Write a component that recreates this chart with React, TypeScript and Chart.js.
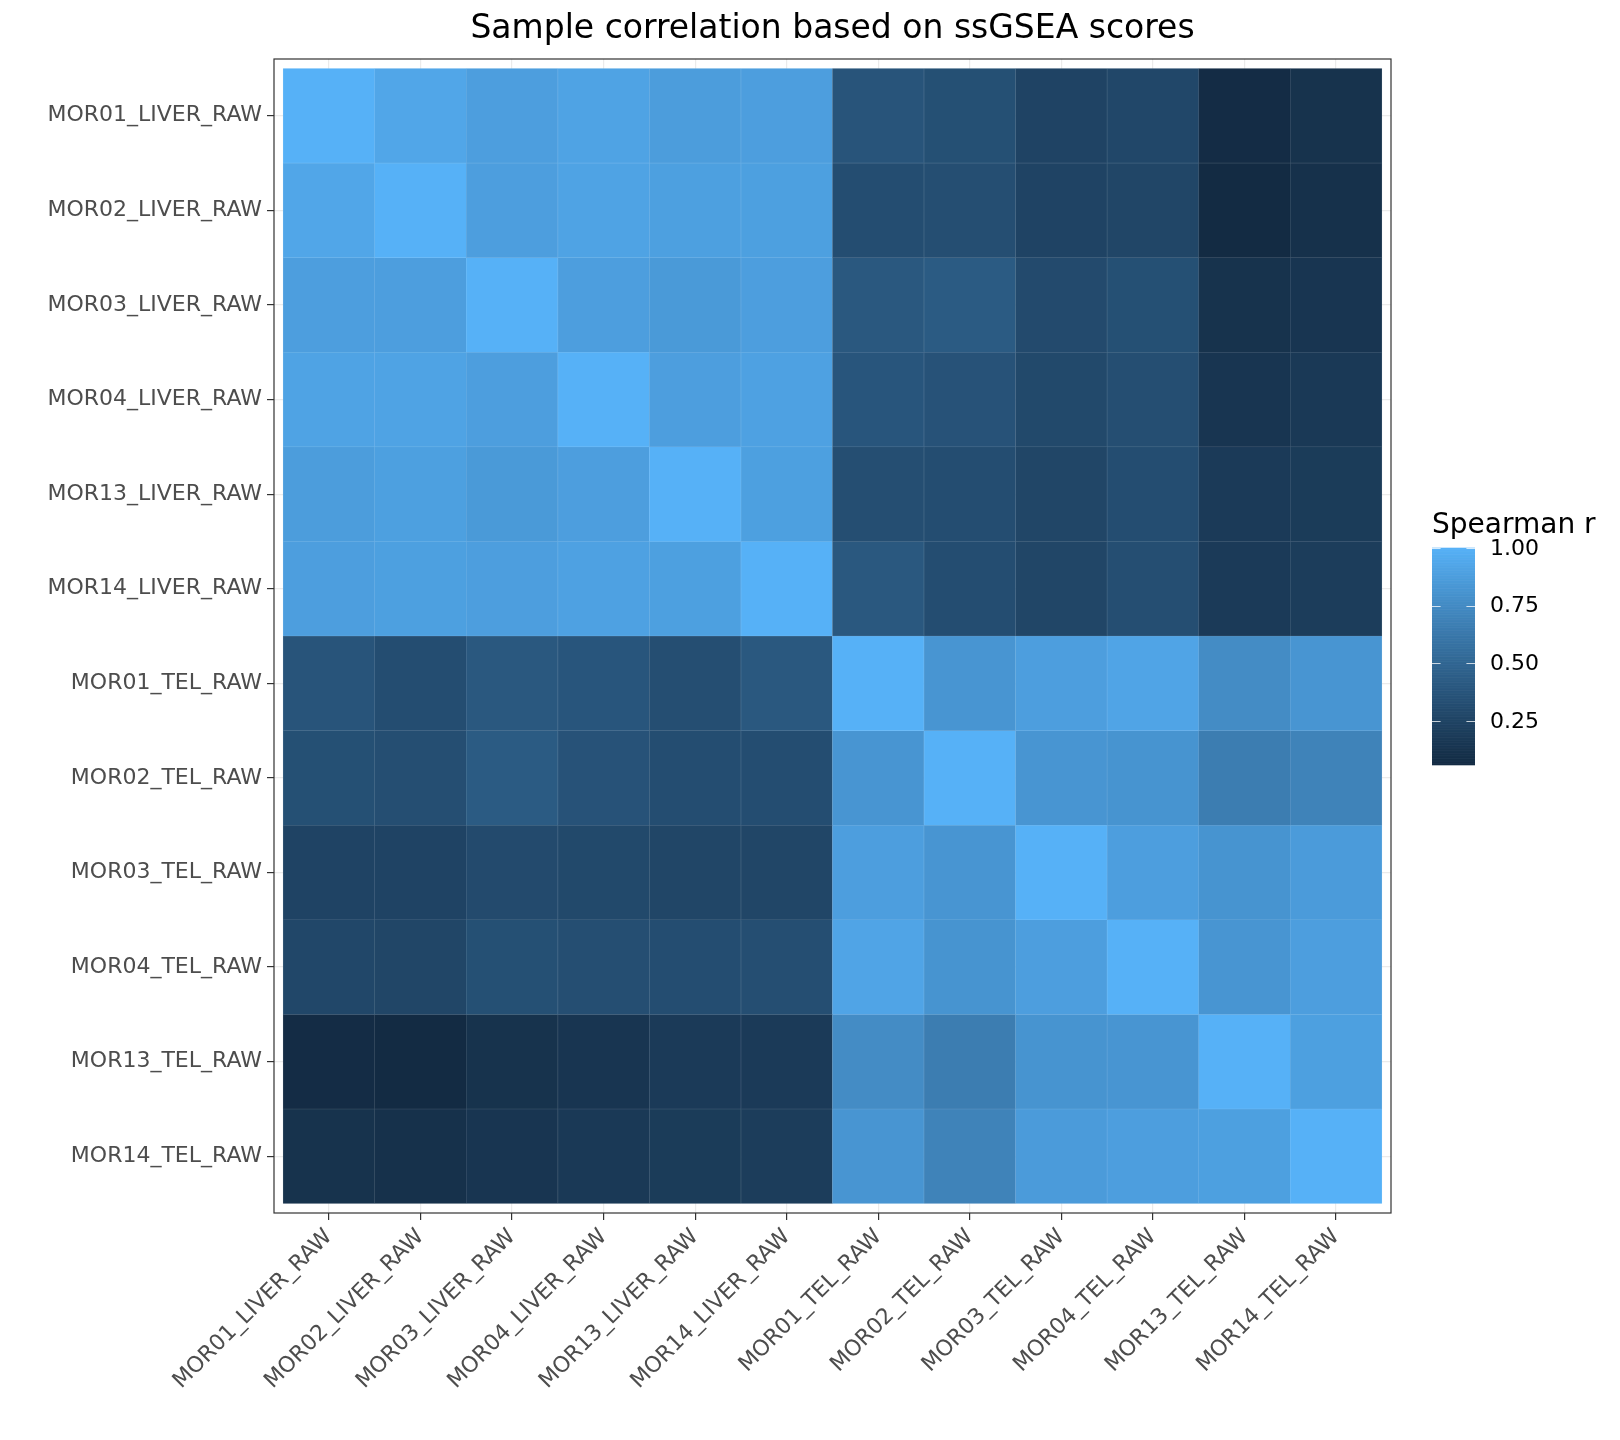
import React, { useEffect, useRef } from "react";
import { Chart, registerables } from "chart.js";

Chart.register(...registerables);

const samples = [
  "MOR01_LIVER_RAW",
  "MOR02_LIVER_RAW",
  "MOR03_LIVER_RAW",
  "MOR04_LIVER_RAW",
  "MOR13_LIVER_RAW",
  "MOR14_LIVER_RAW",
  "MOR01_TEL_RAW",
  "MOR02_TEL_RAW",
  "MOR03_TEL_RAW",
  "MOR04_TEL_RAW",
  "MOR13_TEL_RAW",
  "MOR14_TEL_RAW",
];

// Spearman r, one row per sample (same order as columns)
const rowMOR01Liver = [1.0, 0.93, 0.88, 0.91, 0.87, 0.88, 0.37, 0.34, 0.25, 0.28, 0.07, 0.12];
const rowMOR02Liver = [0.93, 1.0, 0.88, 0.91, 0.89, 0.89, 0.32, 0.33, 0.25, 0.27, 0.06, 0.11];
const rowMOR03Liver = [0.88, 0.88, 1.0, 0.88, 0.85, 0.88, 0.4, 0.42, 0.3, 0.34, 0.12, 0.14];
const rowMOR04Liver = [0.91, 0.91, 0.88, 1.0, 0.88, 0.9, 0.38, 0.36, 0.29, 0.33, 0.14, 0.17];
const rowMOR13Liver = [0.87, 0.89, 0.85, 0.88, 1.0, 0.89, 0.33, 0.32, 0.27, 0.32, 0.18, 0.19];
const rowMOR14Liver = [0.88, 0.89, 0.88, 0.9, 0.89, 1.0, 0.4, 0.32, 0.27, 0.33, 0.18, 0.2];
const rowMOR01Tel = [0.37, 0.32, 0.4, 0.38, 0.33, 0.4, 1.0, 0.82, 0.88, 0.92, 0.76, 0.82];
const rowMOR02Tel = [0.34, 0.33, 0.42, 0.36, 0.32, 0.32, 0.82, 1.0, 0.82, 0.81, 0.66, 0.7];
const rowMOR03Tel = [0.25, 0.25, 0.3, 0.29, 0.27, 0.27, 0.88, 0.82, 1.0, 0.88, 0.81, 0.86];
const rowMOR04Tel = [0.28, 0.27, 0.34, 0.33, 0.32, 0.33, 0.92, 0.81, 0.88, 1.0, 0.82, 0.88];
const rowMOR13Tel = [0.07, 0.06, 0.12, 0.14, 0.18, 0.18, 0.76, 0.66, 0.81, 0.82, 1.0, 0.89];
const rowMOR14Tel = [0.12, 0.11, 0.14, 0.17, 0.19, 0.2, 0.82, 0.7, 0.86, 0.88, 0.89, 1.0];

const matrixRows = [
  rowMOR01Liver,
  rowMOR02Liver,
  rowMOR03Liver,
  rowMOR04Liver,
  rowMOR13Liver,
  rowMOR14Liver,
  rowMOR01Tel,
  rowMOR02Tel,
  rowMOR03Tel,
  rowMOR04Tel,
  rowMOR13Tel,
  rowMOR14Tel,
];

const legendBreaks = [0.25, 0.5, 0.75, 1.0];
const legendTitle = "Spearman r";
const chartTitle = "Sample correlation based on ssGSEA scores";
const colorLow = "#132B43";
const colorHigh = "#56B1F7";

// ---- Lab colour interpolation (like ggplot2's scale_fill_gradient) ----
function hexToRgb(h: string) {
  const n = parseInt(h.slice(1), 16);
  return [(n >> 16) & 255, (n >> 8) & 255, n & 255];
}
function toLin(c: number) {
  c /= 255;
  return c <= 0.04045 ? c / 12.92 : Math.pow((c + 0.055) / 1.055, 2.4);
}
function fromLin(c: number) {
  const v = c <= 0.0031308 ? 12.92 * c : 1.055 * Math.pow(c, 1 / 2.4) - 0.055;
  return Math.round(Math.max(0, Math.min(1, v)) * 255);
}
const Xn = 0.95047, Yn = 1.0, Zn = 1.08883;
function fLab(t: number) {
  return t > 0.008856 ? Math.cbrt(t) : 7.787 * t + 16 / 116;
}
function fInv(t: number) {
  const t3 = t * t * t;
  return t3 > 0.008856 ? t3 : (t - 16 / 116) / 7.787;
}
function rgbToLab(rgb: number[]) {
  const r = toLin(rgb[0]), g = toLin(rgb[1]), b = toLin(rgb[2]);
  const X = 0.4124564 * r + 0.3575761 * g + 0.1804375 * b;
  const Y = 0.2126729 * r + 0.7151522 * g + 0.072175 * b;
  const Z = 0.0193339 * r + 0.119192 * g + 0.9503041 * b;
  const fx = fLab(X / Xn), fy = fLab(Y / Yn), fz = fLab(Z / Zn);
  return [116 * fy - 16, 500 * (fx - fy), 200 * (fy - fz)];
}
function labToRgb(lab: number[]) {
  const fy = (lab[0] + 16) / 116;
  const fx = fy + lab[1] / 500;
  const fz = fy - lab[2] / 200;
  const X = fInv(fx) * Xn, Y = fInv(fy) * Yn, Z = fInv(fz) * Zn;
  const r = 3.2404542 * X - 1.5371385 * Y - 0.4985314 * Z;
  const g = -0.969266 * X + 1.8760108 * Y + 0.041556 * Z;
  const b = 0.0556434 * X - 0.2040259 * Y + 1.0572252 * Z;
  return [fromLin(r), fromLin(g), fromLin(b)];
}
const labLow = rgbToLab(hexToRgb(colorLow));
const labHigh = rgbToLab(hexToRgb(colorHigh));
function rampRgb(t: number) {
  t = Math.max(0, Math.min(1, t));
  return labToRgb([0, 1, 2].map((k) => labLow[k] + (labHigh[k] - labLow[k]) * t));
}

export default function App() {
  const ref = useRef<HTMLCanvasElement>(null);

  useEffect(() => {
    if (!ref.current) return;
    const all = matrixRows.flat();
    const vmin = Math.min(...all);
    const vmax = Math.max(...all);
    const norm = (v: number) => (v - vmin) / (vmax - vmin);
    const colorOf = (v: number) => {
      const c = rampRgb(norm(v));
      return `rgb(${c[0]},${c[1]},${c[2]})`;
    };
    const borderOf = (v: number) => {
      const c = rampRgb(norm(v));
      const m = (x: number) => Math.round(x + (255 - x) * 0.18);
      return `rgb(${m(c[0])},${m(c[1])},${m(c[2])})`;
    };

    const datasets = matrixRows.map((row, r) => ({
      label: samples[r],
      data: row.map((_, c) => ({ x: c, y: [r - 0.5, r + 0.5] })),
      backgroundColor: row.map((v) => colorOf(v)),
      borderColor: row.map((v) => borderOf(v)),
      borderWidth: 0.6,
      borderSkipped: false as const,
      grouped: false,
      barPercentage: 1,
      categoryPercentage: 1,
    }));

    const decor = {
      id: "decor",
      afterDatasetsDraw(chart: any) {
        const { ctx, chartArea } = chart;
        ctx.save();
        ctx.strokeStyle = "#333333";
        ctx.lineWidth = 1.2;
        ctx.strokeRect(
          chartArea.left,
          chartArea.top,
          chartArea.right - chartArea.left,
          chartArea.bottom - chartArea.top
        );
        ctx.restore();
      },
      afterDraw(chart: any) {
        const { ctx, chartArea } = chart;
        ctx.save();
        // title
        ctx.fillStyle = "#000000";
        ctx.font = '33px "DejaVu Sans"';
        ctx.textAlign = "center";
        ctx.textBaseline = "alphabetic";
        ctx.fillText(chartTitle, (chartArea.left + chartArea.right) / 2, 38);

        // colour bar legend
        const x0 = 1432, x1 = 1475, top = 548, bottom = 765;
        const nbin = 300;
        const h = (bottom - top) / nbin;
        for (let i = 0; i < nbin; i++) {
          const t = (i + 0.5) / nbin;
          const c = rampRgb(t);
          ctx.fillStyle = `rgb(${c[0]},${c[1]},${c[2]})`;
          ctx.fillRect(x0, bottom - (i + 1) * h - 0.3, x1 - x0, h + 0.6);
        }
        const yOf = (v: number) => bottom - norm(v) * (bottom - top);
        ctx.strokeStyle = "rgba(255,255,255,0.75)";
        ctx.lineWidth = 1.1;
        const tl = (x1 - x0) / 5;
        legendBreaks.forEach((b) => {
          const y = Math.round(yOf(b)) + 0.5;
          ctx.beginPath();
          ctx.moveTo(x0, y);
          ctx.lineTo(x0 + tl, y);
          ctx.moveTo(x1 - tl, y);
          ctx.lineTo(x1, y);
          ctx.stroke();
        });
        ctx.fillStyle = "#000000";
        ctx.font = '22px "DejaVu Sans"';
        ctx.textAlign = "left";
        ctx.textBaseline = "middle";
        legendBreaks.forEach((b) => {
          ctx.fillText(b.toFixed(2), 1490, yOf(b) + 1);
        });
        ctx.font = '28px "DejaVu Sans"';
        ctx.textBaseline = "alphabetic";
        ctx.fillText(legendTitle, 1432, 533);
        ctx.restore();
      },
    };

    const indexTicks = (scale: any) => {
      scale.ticks = samples.map((_, i) => ({ value: i }));
    };

    const chart = new Chart(ref.current, {
      type: "bar",
      data: { datasets: datasets as any },
      options: {
        responsive: false,
        maintainAspectRatio: false,
        devicePixelRatio: 1,
        animation: false,
        layout: { padding: { left: 0, right: 229, top: 59, bottom: 0 } },
        plugins: {
          legend: { display: false },
          tooltip: { enabled: false },
          title: { display: false },
        },
        scales: {
          x: {
            type: "linear",
            min: -0.6,
            max: 11.6,
            offset: false,
            afterBuildTicks: indexTicks,
            afterFit: (scale: any) => {
              scale.height = 227;
            },
            grid: {
              offset: false,
              color: "#EBEBEB",
              lineWidth: 1.2,
              drawOnChartArea: true,
              tickColor: "#333333",
              tickLength: 7,
              tickWidth: 1.2,
            },
            border: { display: false },
            ticks: {
              autoSkip: false,
              minRotation: 45,
              maxRotation: 45,
              padding: 4,
              color: "#4D4D4D",
              font: { family: '"DejaVu Sans"', size: 22 },
              callback: (v: any) => samples[Math.round(Number(v))] ?? "",
            },
          },
          y: {
            type: "linear",
            min: -0.6,
            max: 11.6,
            reverse: true,
            afterBuildTicks: indexTicks,
            afterFit: (scale: any) => {
              scale.width = 274;
            },
            grid: {
              color: "#EBEBEB",
              lineWidth: 1.2,
              tickColor: "#333333",
              tickLength: 7,
              tickWidth: 1.2,
            },
            border: { display: false },
            ticks: {
              autoSkip: false,
              padding: 5,
              color: "#4D4D4D",
              font: { family: '"DejaVu Sans"', size: 22 },
              callback: (v: any) => samples[Math.round(Number(v))] ?? "",
            },
          },
        },
      } as any,
      plugins: [decor],
    });
    return () => chart.destroy();
  }, []);

  return (
    <div
      style={{
        position: "absolute",
        left: 0,
        top: 0,
        width: 1620,
        height: 1440,
        background: "#ffffff",
      }}
    >
      <canvas
        ref={ref}
        width={1620}
        height={1440}
        style={{ display: "block", width: 1620, height: 1440 }}
      />
    </div>
  );
}
